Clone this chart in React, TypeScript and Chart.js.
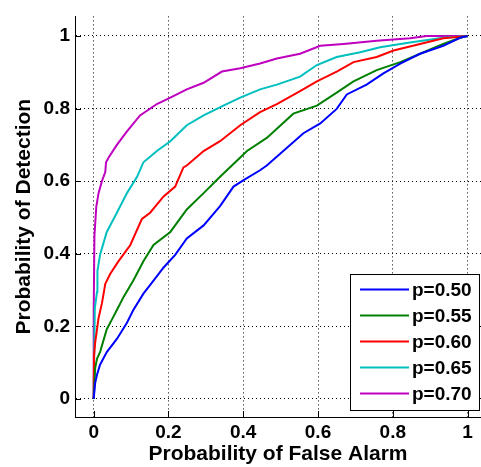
import React, { useEffect, useRef } from 'react';
import { Chart, registerables } from 'chart.js';

Chart.register(...registerables);

// ---- Data ----
const seriesLabels = ['p=0.50', 'p=0.55', 'p=0.60', 'p=0.65', 'p=0.70'];
const seriesColors = ['#0000FF', '#008000', '#FF0000', '#00BFBF', '#BF00BF'];

const faP50 = [0, 0.004, 0.009, 0.017, 0.035, 0.062, 0.089, 0.106, 0.133, 0.160, 0.187, 0.218, 0.249, 0.294, 0.338, 0.374, 0.401, 0.445, 0.463, 0.517, 0.561, 0.606, 0.650, 0.677, 0.730, 0.775, 0.820, 0.873, 0.935, 0.980, 1];
const pdP50 = [0, 0.044, 0.067, 0.094, 0.129, 0.165, 0.210, 0.245, 0.290, 0.326, 0.362, 0.397, 0.442, 0.478, 0.531, 0.585, 0.603, 0.630, 0.643, 0.692, 0.732, 0.759, 0.799, 0.839, 0.866, 0.897, 0.924, 0.951, 0.973, 0.995, 1];

const faP55 = [0, 0.004, 0.009, 0.017, 0.035, 0.049, 0.062, 0.080, 0.106, 0.133, 0.160, 0.205, 0.249, 0.294, 0.338, 0.392, 0.410, 0.463, 0.534, 0.597, 0.650, 0.695, 0.757, 0.820, 0.873, 0.935, 0.980, 1];
const pdP55 = [0, 0.085, 0.111, 0.129, 0.192, 0.219, 0.245, 0.281, 0.326, 0.379, 0.424, 0.460, 0.522, 0.567, 0.612, 0.665, 0.683, 0.719, 0.786, 0.808, 0.844, 0.875, 0.906, 0.928, 0.951, 0.978, 0.995, 1];

const faP60 = [0, 0.001, 0.004, 0.009, 0.013, 0.022, 0.031, 0.044, 0.066, 0.098, 0.129, 0.151, 0.187, 0.218, 0.240, 0.249, 0.294, 0.338, 0.392, 0.445, 0.490, 0.552, 0.597, 0.650, 0.695, 0.757, 0.802, 0.873, 0.935, 1];
const pdP60 = [0, 0.120, 0.156, 0.192, 0.223, 0.263, 0.317, 0.344, 0.379, 0.424, 0.496, 0.513, 0.558, 0.585, 0.638, 0.643, 0.683, 0.710, 0.754, 0.790, 0.8125, 0.848, 0.875, 0.902, 0.928, 0.942, 0.960, 0.978, 0.994, 1];

const faP65 = [0, 0.003, 0.009, 0.010, 0.017, 0.035, 0.062, 0.089, 0.116, 0.133, 0.169, 0.205, 0.249, 0.294, 0.347, 0.392, 0.445, 0.490, 0.552, 0.597, 0.650, 0.713, 0.766, 0.846, 0.935, 1];
const pdP65 = [0, 0.250, 0.295, 0.353, 0.397, 0.460, 0.513, 0.567, 0.612, 0.652, 0.683, 0.710, 0.754, 0.781, 0.808, 0.830, 0.853, 0.866, 0.888, 0.920, 0.942, 0.955, 0.969, 0.982, 0.995, 1];

const faP70 = [0, 0, 0.002, 0.007, 0.013, 0.022, 0.031, 0.033, 0.040, 0.062, 0.089, 0.124, 0.169, 0.205, 0.249, 0.294, 0.343, 0.392, 0.445, 0.490, 0.552, 0.606, 0.668, 0.757, 0.846, 0.891, 1];
const pdP70 = [0, 0.240, 0.450, 0.530, 0.567, 0.600, 0.625, 0.652, 0.665, 0.700, 0.737, 0.781, 0.8125, 0.830, 0.853, 0.871, 0.902, 0.911, 0.924, 0.938, 0.951, 0.973, 0.978, 0.987, 0.994, 1.0, 1.0];

const seriesFA = [faP50, faP55, faP60, faP65, faP70];
const seriesPD = [pdP50, pdP55, pdP60, pdP65, pdP70];

const tickValues = [0, 0.2, 0.4, 0.6, 0.8, 1];
const xTickLabels = ['0', '0.2', '0.4', '0.6', '0.8', '1'];
const yTickLabels = ['0', '0.2', '0.4', '0.6', '0.8', '1'];

const xTitle = 'Probability of False Alarm';
const yTitle = 'Probability of Detection';

const SANS = "'Liberation Sans', Arial, sans-serif";

function labelFor(labels: string[], v: number) {
  const i = tickValues.findIndex((t) => Math.abs(t - v) < 1e-6);
  return i >= 0 ? labels[i] : '';
}

const matlabPlugin = {
  id: 'matlabDecor',
  afterDatasetsDraw(chart: any) {
    const { ctx, chartArea, scales } = chart;
    ctx.save();
    // inward tick marks
    ctx.strokeStyle = '#000';
    ctx.lineWidth = 1;
    ctx.setLineDash([]);
    tickValues.forEach((v) => {
      const px = Math.round(scales.x.getPixelForValue(v)) + 0.5;
      ctx.beginPath();
      ctx.moveTo(px, chartArea.bottom);
      ctx.lineTo(px, chartArea.bottom - 6);
      ctx.stroke();
      const py = Math.round(scales.y.getPixelForValue(v)) + 0.5;
      ctx.beginPath();
      ctx.moveTo(chartArea.left, py);
      ctx.lineTo(chartArea.left + 6, py);
      ctx.stroke();
    });

    // legend box
    const bx = 350.5, by = 274.5, bw = 129, bh = 136;
    ctx.fillStyle = '#fff';
    ctx.fillRect(bx, by, bw, bh);
    ctx.strokeStyle = '#000';
    ctx.lineWidth = 1;
    ctx.strokeRect(bx, by, bw, bh);
    ctx.font = `bold 19px ${SANS}`;
    ctx.textBaseline = 'middle';
    ctx.textAlign = 'left';
    chart.data.datasets.forEach((ds: any, i: number) => {
      const y = 289.5 + i * 26;
      ctx.strokeStyle = ds.borderColor;
      ctx.lineWidth = 2;
      ctx.beginPath();
      ctx.moveTo(360, y);
      ctx.lineTo(409, y);
      ctx.stroke();
      ctx.fillStyle = '#000';
      ctx.fillText(ds.label, 412, y + 1);
    });
    ctx.restore();
  },
};

export default function App() {
  const canvasRef = useRef<HTMLCanvasElement | null>(null);

  useEffect(() => {
    if (!canvasRef.current) return;
    const datasets = seriesLabels.map((label, i) => ({
      label,
      data: seriesFA[i].map((x, j) => ({ x, y: seriesPD[i][j] })),
      borderColor: seriesColors[i],
      backgroundColor: seriesColors[i],
      borderWidth: 2,
      pointRadius: 0,
      tension: 0,
      fill: false,
    }));

    const tickFont = { family: SANS, size: 19, weight: 'bold' as const };
    const titleFont = { family: SANS, size: 21, weight: 'bold' as const };

    const chart = new Chart(canvasRef.current, {
      type: 'line',
      data: { datasets },
      options: {
        animation: false,
        responsive: false,
        devicePixelRatio: 1,
        layout: { padding: { top: 5, right: 0, left: 0, bottom: 0 } },
        plugins: { legend: { display: false }, tooltip: { enabled: false } },
        scales: {
          x: {
            type: 'linear',
            min: -0.05,
            max: 1.036,
            afterFit: (s: any) => { s.height = 50; },
            afterBuildTicks: (s: any) => { s.ticks = tickValues.map((v) => ({ value: v })); },
            ticks: {
              includeBounds: false,
              stepSize: 0.2,
              color: '#000',
              font: tickFont,
              padding: 4,
              maxRotation: 0,
              callback: (v: any) => labelFor(xTickLabels, Number(v)),
            },
            grid: { color: '#000', lineWidth: 1, drawTicks: false },
            border: { display: true, color: '#000', width: 1, dash: [1, 3] },
            title: { display: true, text: xTitle, color: '#000', font: titleFont, padding: { top: 0, bottom: 0 } },
          },
          y: {
            type: 'linear',
            min: -0.05,
            max: 1.054,
            afterFit: (s: any) => { s.width = 75; },
            afterBuildTicks: (s: any) => { s.ticks = tickValues.map((v) => ({ value: v })); },
            ticks: {
              includeBounds: false,
              stepSize: 0.2,
              color: '#000',
              font: tickFont,
              padding: 5,
              callback: (v: any) => labelFor(yTickLabels, Number(v)),
            },
            grid: { color: '#000', lineWidth: 1, drawTicks: false },
            border: { display: true, color: '#000', width: 1, dash: [1, 3] },
            title: { display: true, text: yTitle, color: '#000', font: titleFont, padding: { top: 12, bottom: 0 } },
          },
        },
      },
      plugins: [matlabPlugin],
    });
    return () => chart.destroy();
  }, []);

  return (
    <div style={{ position: 'fixed', left: 0, top: 0, width: 481, height: 467, background: '#fff', overflow: 'hidden' }}>
      <canvas ref={canvasRef} width={481} height={467} style={{ display: 'block', width: 481, height: 467 }} />
    </div>
  );
}
